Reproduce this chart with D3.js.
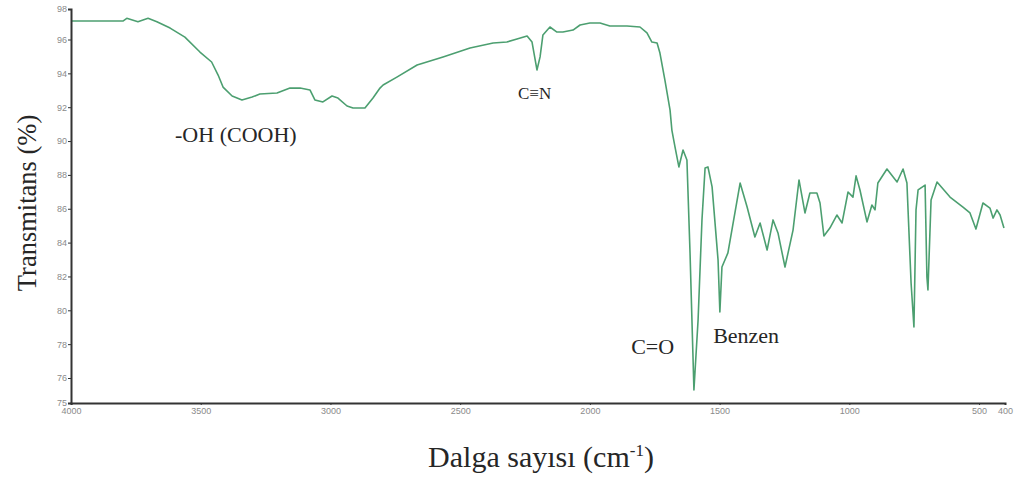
<!DOCTYPE html>
<html>
<head>
<meta charset="utf-8">
<script src="https://cdn.jsdelivr.net/npm/d3@7"></script>
<style>
	body { margin: 0; background: #fff; }
	.tick text { fill: #8a8a8a; font-family: "Liberation Sans", Arial, sans-serif; font-size: 9px; }
	.axis path, .axis line { stroke: #333; }
	.title { font-family: "Liberation Serif", "Times New Roman", serif; fill: #262626; }
</style>
</head>
<body>
<div id="chart"></div>
<script>
'use strict';

// Spectrum (wavenumber in cm-1, transmittance in %)
var wavenumbers = [
	4000, 3800, 3785, 3742, 3703, 3669, 3618, 3561, 3503, 3458,
	3433, 3414, 3379, 3341, 3302, 3272, 3206, 3156, 3117, 3079,
	3060, 3029, 2994, 2971, 2936, 2913, 2867, 2836, 2809, 2797,
	2744, 2666, 2566, 2462, 2373, 2320, 2281, 2242, 2223, 2204,
	2192, 2181, 2154, 2127, 2104, 2065, 2038, 2000, 1961, 1923,
	1857, 1807, 1780, 1761, 1741, 1730, 1711, 1691, 1684, 1672,
	1657, 1641, 1626, 1614, 1603, 1599, 1583, 1568, 1556, 1545,
	1529, 1506, 1499, 1491, 1468, 1421, 1394, 1364, 1344, 1317,
	1294, 1275, 1248, 1217, 1194, 1171, 1152, 1125, 1113, 1098,
	1075, 1048, 1028, 1005, 986, 974, 959, 932, 913, 901,
	890, 855, 816, 793, 778, 762, 751, 743, 735, 708,
	701, 697, 685, 662, 612, 562, 535, 512, 485, 458,
	446, 431, 419, 404
];
var transmittance = [
	97.21, 97.21, 97.39, 97.17, 97.39, 97.17, 96.75, 96.16, 95.26, 94.67,
	93.90, 93.19, 92.66, 92.43, 92.60, 92.78, 92.84, 93.13, 93.13, 93.02,
	92.43, 92.31, 92.66, 92.54, 92.07, 91.95, 91.95, 92.54, 93.13, 93.31,
	93.78, 94.49, 94.97, 95.50, 95.79, 95.85, 96.03, 96.23, 95.85, 94.20,
	94.97, 96.30, 96.82, 96.49, 96.49, 96.62, 96.95, 97.08, 97.08, 96.89,
	96.89, 96.82, 96.43, 95.85, 95.79, 95.20, 93.61, 91.83, 90.65, 89.65,
	88.47, 89.47, 88.88, 83.39, 77.48, 75.52, 79.43, 85.34, 88.41, 88.47,
	87.29, 82.97, 79.90, 82.56, 83.39, 87.52, 86.10, 84.33, 85.16, 83.56,
	85.34, 84.57, 82.56, 84.74, 87.70, 85.75, 86.93, 86.93, 86.34, 84.39,
	84.86, 85.63, 85.16, 86.99, 86.69, 87.94, 87.11, 85.22, 86.22, 85.93,
	87.52, 88.35, 87.58, 88.35, 87.52, 81.61, 79.01, 85.93, 87.11, 87.40,
	81.97, 81.20, 86.52, 87.58, 86.69, 86.10, 85.75, 84.80, 86.34, 86.04,
	85.45, 85.93, 85.63, 84.86
];

// Axis ticks
var xTicks = [4000, 3500, 3000, 2500, 2000, 1500, 1000, 500, 400];
var yTicks = [75, 76, 78, 80, 82, 84, 86, 88, 90, 92, 94, 96, 98];

// Band labels and where they sit (wavenumber, transmittance)
var bandNames = ['-OH (COOH)', 'C\u2261N', 'C=O', 'Benzen'];
var bandWn = [3599, 2277, 1841, 1525];
var bandT = [89.94, 92.48, 77.4, 78.07];
var bandSize = [22, 17, 22, 22];

var width = 1016;
var height = 477;

var svg = d3.select('#chart').append('svg')
	.attr('width', width)
	.attr('height', height);

var xScale = d3.scaleLinear()
	.domain([4000, 400])
	.range([71, 1005]);

// the plot's end labels (75, 98) sit at the frame edges, so the scale is piecewise
var yScale = d3.scaleLinear()
	.domain([75, 76, 96, 98])
	.range([403, 378, 39.5, 9]);

// Curve
var line = d3.line()
	.x(function(d) { return xScale(d[0]); })
	.y(function(d) { return yScale(d[1]); });

svg.append('path')
	.datum(d3.zip(wavenumbers, transmittance))
	.attr('fill', 'none')
	.attr('stroke', '#4c9f70')
	.attr('stroke-width', 1.6)
	.attr('stroke-linejoin', 'round')
	.attr('d', line);

// Axes
var xAxis = d3.axisBottom(xScale)
	.tickValues(xTicks)
	.tickSize(2)
	.tickPadding(3)
	.tickFormat(d3.format('d'));
var yAxis = d3.axisLeft(yScale)
	.tickValues(yTicks)
	.tickSize(3)
	.tickPadding(1)
	.tickFormat(d3.format('d'));

svg.append('g')
	.attr('class', 'x axis')
	.attr('transform', 'translate(0,403)')
	.call(xAxis)
	.call(function(g) { g.select('.domain').attr('stroke-width', 2); });

svg.append('g')
	.attr('class', 'y axis')
	.attr('transform', 'translate(71,0)')
	.call(yAxis)
	.call(function(g) { g.select('.domain').attr('stroke-width', 2); });

// Band labels
svg.selectAll('.band')
	.data(bandNames)
	.enter().append('text')
		.attr('class', 'band title')
		.attr('x', function(d, i) { return xScale(bandWn[i]); })
		.attr('y', function(d, i) { return yScale(bandT[i]); })
		.style('font-size', function(d, i) { return bandSize[i] + 'px'; })
		.text(function(d) { return d; });

// Axis titles
svg.append('text')
	.attr('class', 'title')
	.attr('text-anchor', 'middle')
	.attr('transform', 'translate(36,203) rotate(-90)')
	.style('font-size', '26.5px')
	.text('Transmitans (%)');

var xTitle = svg.append('text')
	.attr('class', 'title')
	.attr('text-anchor', 'middle')
	.attr('x', 541)
	.attr('y', 467)
	.style('font-size', '30px');
xTitle.append('tspan').text('Dalga sayısı (cm');
xTitle.append('tspan')
	.attr('dy', -11)
	.style('font-size', '17px')
	.text('-1');
xTitle.append('tspan')
	.attr('dy', 11)
	.text(')');
</script>
</body>
</html>
